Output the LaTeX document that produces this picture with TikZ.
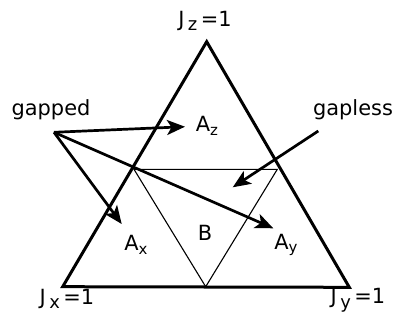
\documentclass[tikz,border=0pt]{standalone}
\usepackage{fontspec}
\setmainfont{DejaVu Sans}
\usetikzlibrary{arrows.meta}
\begin{document}
\begin{tikzpicture}[x=1bp,y=-1bp,
  lbl/.style={inner sep=0pt,font=\fontsize{21}{23}\selectfont},
  outer/.style={line width=3bp,line join=miter},
  inner/.style={line width=1.1bp},
  arr/.style={line width=2.7bp,-{Stealth[length=18bp,width=15bp,inset=4.5bp]}}]
\useasboundingbox (0,0) rectangle (398,324);
% vertices
\coordinate (T) at (206.7,41.7);
\coordinate (L) at (62.7,286.7);
\coordinate (R) at (349.3,287.3);
\coordinate (ML) at (134,169.3);
\coordinate (MR) at (277.3,169.3);
\coordinate (MB) at (205.7,286.7);
\draw[outer] (T) -- (L) -- (R) -- cycle;
\draw[inner] (ML) -- (MR) -- (MB) -- cycle;
% labels
\node[lbl] (jz) at (205,21) {J\,\raisebox{-0.4ex}{\fontsize{18}{20}\selectfont z}\,=1};
\node[lbl] (jx) at (67,299) {J\,\raisebox{-0.4ex}{\fontsize{18}{20}\selectfont x}\,=1};
\node[lbl] (jy) at (358,300) {J\,\raisebox{-0.4ex}{\fontsize{18}{20}\selectfont y}\,=1};
\node[lbl] (az) at (207,126) {A\raisebox{-0.3ex}{\fontsize{15}{17}\selectfont z}};
\node[lbl] (ax) at (136,245) {A\raisebox{-0.3ex}{\fontsize{15}{17}\selectfont x}};
\node[lbl] (ay) at (286,245) {A\raisebox{-0.3ex}{\fontsize{15}{17}\selectfont y}};
\node[lbl] (b) at (205,233) {B};
\node[lbl] (gapped) at (51,110) {gapped};
\node[lbl] (gapless) at (353,110) {gapless};
% arrows
\coordinate (g0) at (54,132.3);
\coordinate (tz) at (185,126.7);
\coordinate (tx) at (121.7,224);
\coordinate (ty) at (273.3,228.3);
\coordinate (s0) at (318.3,131);
\coordinate (ts) at (232.7,187.3);
\draw[arr] (g0) -- (tz);
\draw[arr] (g0) -- (tx);
\draw[arr] (g0) -- (ty);
\draw[arr] (s0) -- (ts);
\end{tikzpicture}
\end{document}
